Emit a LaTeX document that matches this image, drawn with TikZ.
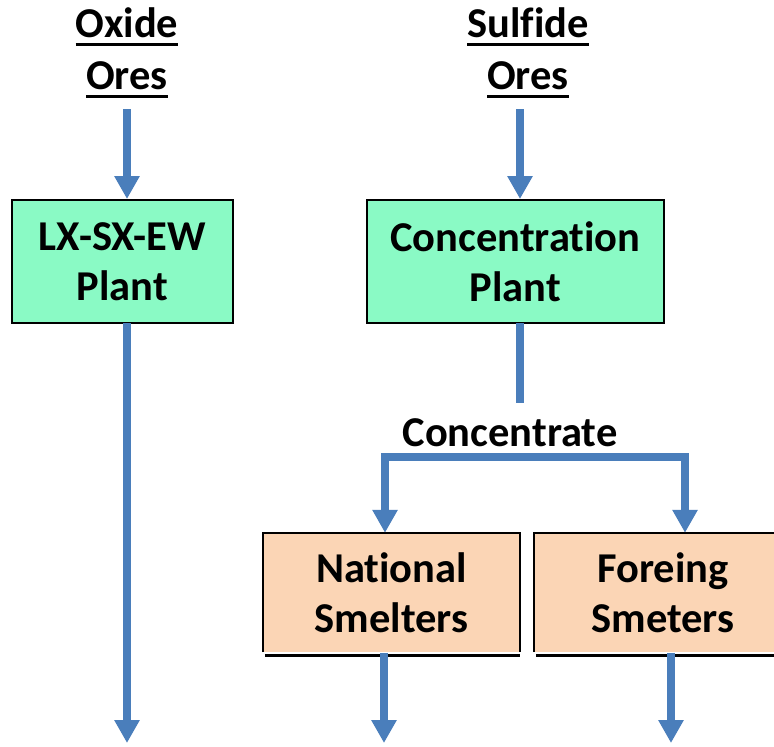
\documentclass[tikz,border=0pt]{standalone}
\usepackage{fontspec}
\setmainfont{Carlito}[RawFeature=-liga]
\usetikzlibrary{arrows.meta}
\definecolor{flow}{HTML}{4A7EBB}
\definecolor{mint}{HTML}{8AFAC5}
\definecolor{peach}{HTML}{FBD5B5}
\newcommand\myul[1]{\setbox0\hbox{#1}\leavevmode\rlap{\raisebox{-9pt}{\rule{\wd0}{3pt}}}\box0}
\begin{document}
\begin{tikzpicture}[x=1pt,y=-1pt,
  bigfont/.style={font=\fontsize{42.5}{50}\selectfont\bfseries},
  flowline/.style={draw=flow, line width=8pt},
  flowarrow/.style={flowline, -{Triangle[width=24pt,length=23pt]}},
  plantbox/.style={bigfont, fill=mint, draw=black, line width=2pt, align=center, inner sep=0pt},
  smeltbox/.style={bigfont, fill=peach, align=center, inner sep=0pt},
  heading/.style={bigfont, anchor=base, inner sep=0pt}]
\useasboundingbox (0,0) rectangle (774,747);
\fill[white] (0,0) rectangle (774,747);
% headings
\node[heading] (ox1) at (127,37) {\myul{Oxide}};
\node[heading] (ox2) at (127,89) {\myul{Ores}};
\node[heading] (su1) at (528,37) {\myul{Sulfide}};
\node[heading] (su2) at (528,89) {\myul{Ores}};
% plant boxes
\node[plantbox, minimum width=221pt, minimum height=123pt] (lx) at (122.5,261.5) {LX-SX-EW\\Plant};
\node[plantbox, minimum width=297pt, minimum height=123pt] (conc) at (515.5,261.5) {Concentration\\Plant};
% smelter boxes
\node[smeltbox, minimum width=257pt, minimum height=119pt] (nat) at (391.5,592.5) {National\\Smelters};
\node[smeltbox, minimum width=258pt, minimum height=119pt] (for) at (663,592.5) {Foreing\\Smeters};
\foreach \b in {nat,for}{
  \draw[line width=2pt] (\b.south west) -- (\b.north west) -- (\b.north east) -- (\b.south east);
  \draw[line width=2.5pt] ([xshift=2pt,yshift=-3.5pt]\b.south west) -- ([yshift=-3.5pt]\b.south east);
}
\node[heading] (cc) at (510,446) {Concentrate};
% coordinates
\coordinate (oxs) at (127,109);
\coordinate (sus) at (520,109);
\coordinate (lxb) at (127,323);
\coordinate (lxend) at (127,743);
\coordinate (cb) at (520,323);
\coordinate (ce) at (520,403);
\coordinate (sl) at (385,457);
\coordinate (sr) at (685,457);
\coordinate (nb) at (384,653);
\coordinate (ne) at (384,743);
\coordinate (fb) at (671,653);
\coordinate (fe) at (671,743);
% connectors
\draw[flowarrow] (oxs) -- (oxs |- lx.north);
\draw[flowarrow] (sus) -- (sus |- conc.north);
\draw[flowarrow] (lxb) -- (lxend);
\draw[flowline] (cb) -- (ce);
\draw[flowarrow] (sr) -| (sl |- nat.north);
\draw[flowarrow] (sl) -| (sr |- for.north);
\draw[flowarrow] (nb) -- (ne);
\draw[flowarrow] (fb) -- (fe);
\end{tikzpicture}
\end{document}
